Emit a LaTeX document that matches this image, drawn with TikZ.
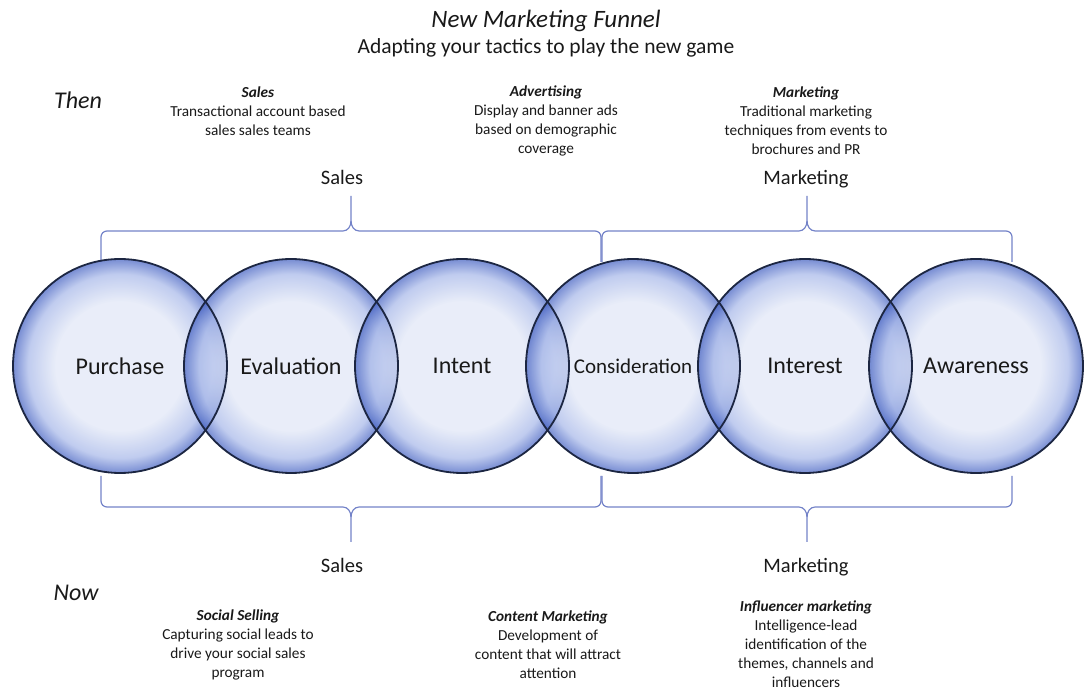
\documentclass[tikz,border=0pt]{standalone}
\usepackage{fontspec}
\setmainfont{Carlito}
\definecolor{inkcol}{RGB}{25,25,25}
\definecolor{ballin}{RGB}{224,230,246}
\definecolor{ballmid}{RGB}{165,182,232}
\definecolor{ballout}{RGB}{62,92,192}
\definecolor{ringcol}{RGB}{28,38,66}
\definecolor{bracecol}{RGB}{115,130,200}
\pgfdeclareradialshading{funnelball}{\pgfpoint{0bp}{0bp}}{color(0bp)=(ballin); color(15bp)=(ballin); color(21.5bp)=(ballmid); color(25bp)=(ballout); color(50bp)=(ballout)}
\tikzset{
  stage/.style={circle, minimum size=214pt, inner sep=0pt, shading=funnelball, fill opacity=0.7, text opacity=1, text=inkcol, font=\fontsize{24}{28}\selectfont},
  stagering/.style={draw=ringcol, line width=1.8pt},
  bracketline/.style={draw=bracecol, line width=1.2pt},
  note/.style={align=center, text=inkcol, font=\fontsize{15.3}{19}\selectfont},
  grouplabel/.style={anchor=base, text=inkcol, font=\fontsize{20.5}{24}\selectfont},
  era/.style={text=inkcol, font=\itshape\fontsize{24}{28}\selectfont},
  pics/funnel brace/.style={code={
    \draw[bracketline] (-#1,-31) -- (-#1,-6) to[out=90,in=180] (-#1+6,0) -- (-8,0) to[out=0,in=-90] (0,10) -- (0,35);
    \draw[bracketline] (#1,-31) -- (#1,-6) to[out=90,in=0] (#1-6,0) -- (8,0) to[out=180,in=-90] (0,10);
  }}
}
\newcommand{\headline}[1]{\textbf{\textit{#1}}}
\begin{document}
\begin{tikzpicture}[x=1pt,y=1pt]
\useasboundingbox (0,0) rectangle (1084,691);
% title
\path (546,670) node[era, font=\itshape\fontsize{25}{29}\selectfont] (title) {New Marketing Funnel};
\path (546,637) node[grouplabel, font=\fontsize{21.5}{25}\selectfont] (subtitle) {Adapting your tactics to play the new game};
% then
\path (78,591) node[era] (then) {Then};
\path (258,580) node[note] (thensales) {\headline{Sales}\\Transactional account based\\sales sales teams};
\path (546,570) node[note] (thenads) {\headline{Advertising}\\Display and banner ads\\based on demographic\\coverage};
\path (806,570) node[note] (thenmkt) {\headline{Marketing}\\Traditional marketing\\techniques from events to\\brochures and PR};
\path (342,506) node[grouplabel] (topsales) {Sales};
\path (806,506) node[grouplabel] (topmkt) {Marketing};
% braces
\pic at (351,460) {funnel brace=250};
\pic at (807,460) {funnel brace=205};
\pic[yscale=-1] at (351,184) {funnel brace=250};
\pic[yscale=-1] at (807,184) {funnel brace=205};
% stages
\path (120,325) node[stage] (purchase) {Purchase};
\path (291,325) node[stage] (evaluation) {Evaluation};
\path (462,325) node[stage] (intent) {Intent};
\path (633,325) node[stage, font=\fontsize{21}{25}\selectfont] (consideration) {Consideration};
\path (805,325) node[stage] (interest) {Interest};
\path (976,325) node[stage] (awareness) {Awareness};
\foreach \s in {purchase,evaluation,intent,consideration,interest,awareness}
  \draw[stagering] (\s.center) circle[radius=107];
% now
\path (342,119) node[grouplabel] (botsales) {Sales};
\path (806,119) node[grouplabel] (botmkt) {Marketing};
\path (76,98) node[era] (now) {Now};
\path (238,46) node[note] (nowsocial) {\headline{Social Selling}\\Capturing social leads to\\drive your social sales\\program};
\path (548,46) node[note] (nowcontent) {\headline{Content Marketing}\\Development of\\content that will attract\\attention};
\path (806,47) node[note] (nowinfl) {\headline{Influencer marketing}\\Intelligence-lead\\identification of the\\themes, channels and\\influencers};
\end{tikzpicture}
\end{document}
